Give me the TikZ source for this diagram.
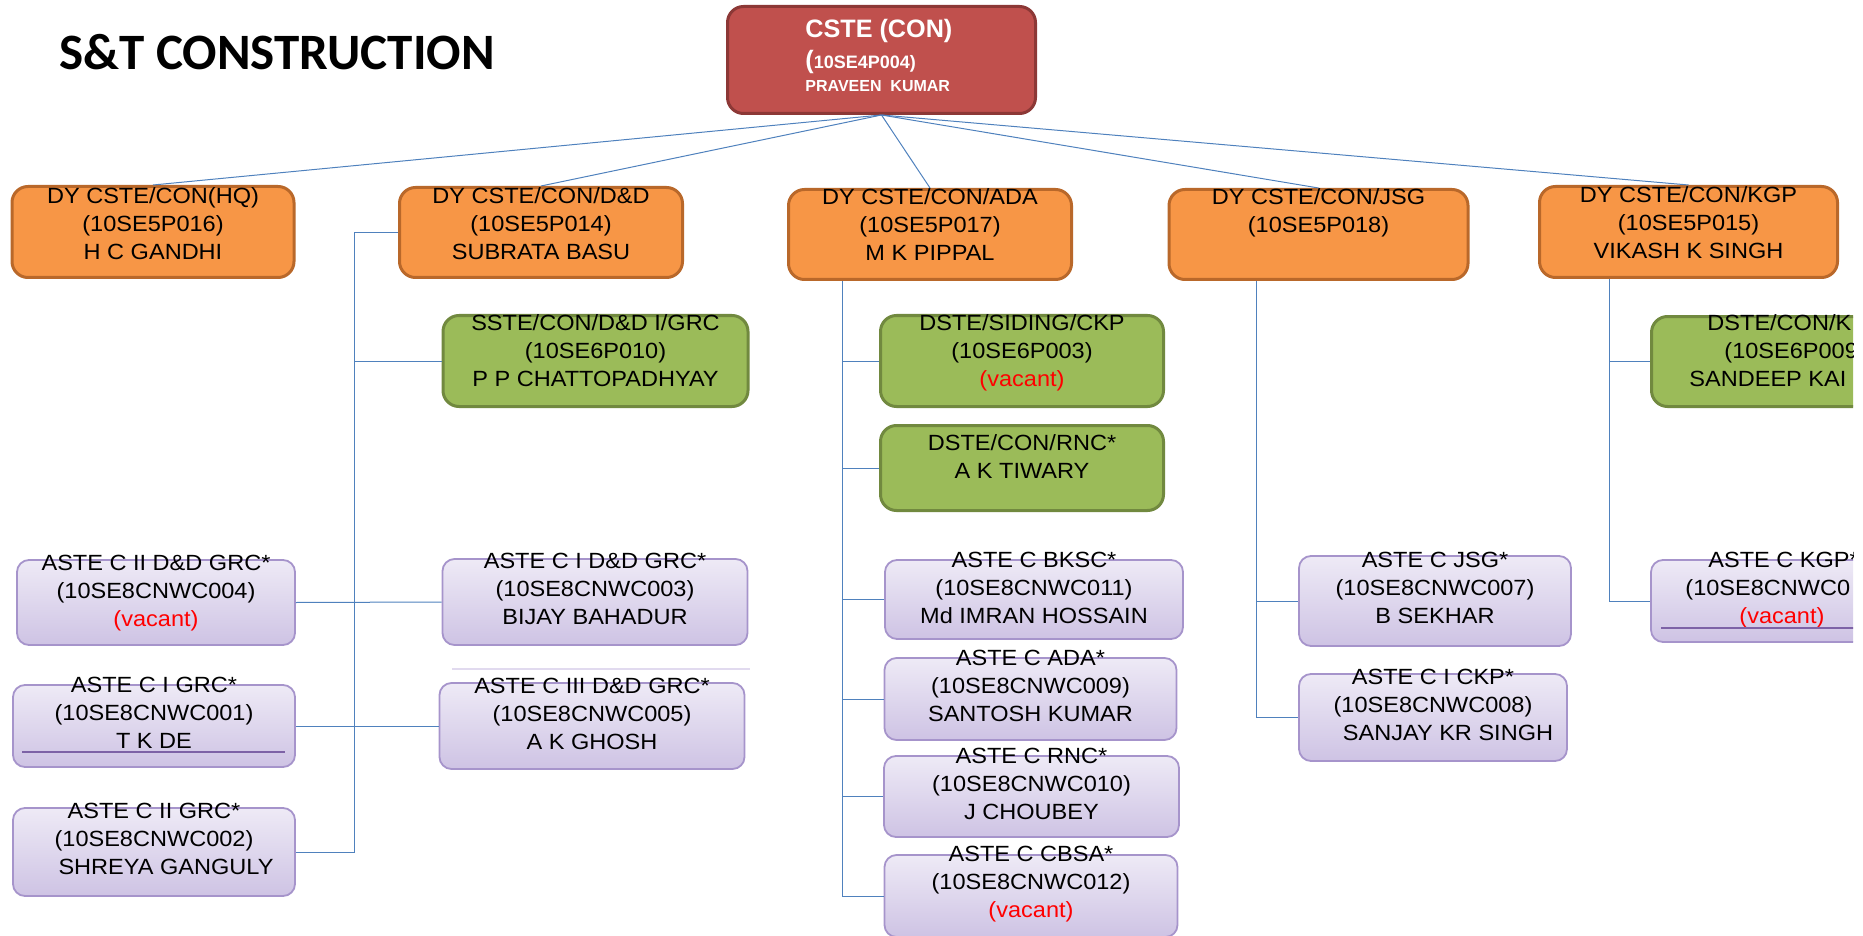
\documentclass[tikz,border=0pt]{standalone}
\usepackage{fontspec}
\setmainfont{Liberation Sans}[FakeStretch=1.07]
\newfontfamily\headfont{Liberation Sans}
\newfontfamily\titlefont{Carlito}
\usetikzlibrary{calc}

\definecolor{cstered}{HTML}{C0504D}
\definecolor{cstedark}{HTML}{8C3836}
\definecolor{dyorange}{HTML}{F79646}
\definecolor{dyorangedark}{HTML}{B9682A}
\definecolor{dstegreen}{HTML}{9BBB59}
\definecolor{dstegreendark}{HTML}{71893F}
\definecolor{astetop}{HTML}{EEEAF6}
\definecolor{astebot}{HTML}{CEC3E4}
\definecolor{asteedge}{HTML}{A694CB}
\definecolor{asteline}{HTML}{7D62A6}
\definecolor{linkblue}{HTML}{4F81BD}
\definecolor{vacantred}{HTML}{FF0000}

\tikzset{
  cstebox/.style={draw=cstedark, fill=cstered, line width=1.5pt, rounded corners=8pt},
  dybox/.style={draw=dyorangedark, fill=dyorange, line width=1.5pt, rounded corners=8pt},
  dstebox/.style={draw=dstegreendark, fill=dstegreen, line width=1.5pt, rounded corners=8pt},
  astebox/.style={draw=asteedge, top color=astetop, bottom color=astebot, line width=0.9pt, rounded corners=6pt},
  boxtext/.style={inner sep=0pt, align=center, anchor=north, font=\fontsize{11}{14}\selectfont},
  link/.style={draw=linkblue, line width=0.5pt},
}

\begin{document}
\begin{tikzpicture}[x=0.5pt,y=-0.5pt]
    \useasboundingbox (0,0) rectangle (1863,936);
    \clip (0,0) rectangle (1853,936);

    \node[anchor=base west, inner sep=0pt, font=\titlefont\bfseries\fontsize{25.5}{30}\selectfont] (title) at (59,70) {S\&T CONSTRUCTION};

    % head
    \node[cstebox, minimum width=154pt, minimum height=53.5pt] (cste) at (881.5,60) {};
    \node[anchor=north west, inner sep=0pt, align=left, text=white, font=\headfont\bfseries\fontsize{9}{15.5}\selectfont] (cstet) at (805,19)
      {{\fontsize{12.6}{15.5}\selectfont CSTE (CON)}\\{\fontsize{12.6}{15.5}\selectfont (}10SE4P004)\\[-4pt]{\fontsize{8}{10}\selectfont PRAVEEN\ \ KUMAR}};

    % deputies
    \node[dybox, minimum width=141pt, minimum height=45.5pt] (hq) at (153,232) {};
    \node[boxtext] (hqt) at (153,187) {DY CSTE/CON(HQ)\\(10SE5P016)\\H C GANDHI};
    \node[dybox, minimum width=141.5pt, minimum height=45pt] (dd) at (541,232.5) {};
    \node[boxtext] (ddt) at (541,187) {DY CSTE/CON/D\&D\\(10SE5P014)\\SUBRATA BASU};
    \node[dybox, minimum width=141.5pt, minimum height=45pt] (ada) at (930,234.5) {};
    \node[boxtext] (adat) at (930,188) {DY CSTE/CON/ADA\\(10SE5P017)\\M K PIPPAL};
    \node[dybox, minimum width=149.5pt, minimum height=45pt] (jsg) at (1318.5,234.5) {};
    \node[boxtext] (jsgt) at (1318.5,188) {DY CSTE/CON/JSG\\(10SE5P018)};
    \node[dybox, minimum width=149pt, minimum height=45.5pt] (kgp) at (1688.5,232) {};
    \node[boxtext] (kgpt) at (1688.5,186) {DY CSTE/CON/KGP\\(10SE5P015)\\VIKASH K SINGH};

    % divisional officers
    \node[dstebox, minimum width=152.5pt, minimum height=45.5pt] (sste) at (595.5,361) {};
    \node[boxtext] (sstet) at (595.5,314) {SSTE/CON/D\&D I/GRC\\(10SE6P010)\\P P CHATTOPADHYAY};
    \node[dstebox, minimum width=141.5pt, minimum height=45.5pt] (siding) at (1022,361) {};
    \node[boxtext] (sidingt) at (1022,314) {DSTE/SIDING/CKP\\(10SE6P003)\\\textcolor{vacantred}{(vacant)}};
    \node[dstebox, minimum width=141.5pt, minimum height=42.5pt] (rnc) at (1022,468) {};
    \node[boxtext] (rnct) at (1022,434) {DSTE/CON/RNC*\\A K TIWARY};
    \node[dstebox, minimum width=150pt, minimum height=45pt] (dstek) at (1801.5,361.5) {};
    \node[boxtext, anchor=north west, align=left] (dstekt) at (1689,314) {\hspace*{9pt}DSTE/CON/K\\\hspace*{17.5pt}(10SE6P009\\SANDEEP KAI};

    % assistant officers
    \node[astebox, minimum width=139pt, minimum height=42.5pt] (c2ddg) at (156,602.5) {};
    \node[boxtext] (c2ddgt) at (156,555) {ASTE C II D\&D GRC*\\(10SE8CNWC004)\\\textcolor{vacantred}{(vacant)}};
    \node[astebox, minimum width=141pt, minimum height=41pt] (c1grc) at (154,726) {};
    \node[boxtext] (c1grct) at (154,677) {ASTE C I GRC*\\(10SE8CNWC001)\\T K DE};
    \node[astebox, minimum width=141pt, minimum height=44pt] (c2grc) at (154,852) {};
    \node[boxtext] (c2grct) at (154,803) {ASTE C II GRC*\\(10SE8CNWC002)\\\hspace*{12pt}SHREYA GANGULY};
    \node[astebox, minimum width=152.5pt, minimum height=43pt] (c1ddg) at (595,602) {};
    \node[boxtext] (c1ddgt) at (595,553) {ASTE C I D\&D GRC*\\(10SE8CNWC003)\\BIJAY BAHADUR};
    \node[astebox, minimum width=152.5pt, minimum height=43pt] (c3ddg) at (592,726) {};
    \node[boxtext] (c3ddgt) at (592,678) {ASTE C III D\&D GRC*\\(10SE8CNWC005)\\A K GHOSH};
    \node[astebox, minimum width=149pt, minimum height=39.5pt] (bksc) at (1034,599.5) {};
    \node[boxtext] (bksct) at (1034,552) {ASTE C BKSC*\\(10SE8CNWC011)\\Md IMRAN HOSSAIN};
    \node[astebox, minimum width=146pt, minimum height=41pt] (cada) at (1030.5,699) {};
    \node[boxtext] (cadat) at (1030.5,650) {ASTE C ADA*\\(10SE8CNWC009)\\SANTOSH KUMAR};
    \node[astebox, minimum width=147.5pt, minimum height=40.5pt] (crnc) at (1031.5,796.5) {};
    \node[boxtext] (crnct) at (1031.5,748) {ASTE C RNC*\\(10SE8CNWC010)\\J CHOUBEY};
    \node[astebox, minimum width=146.5pt, minimum height=41pt] (cbsa) at (1031,896) {};
    \node[boxtext] (cbsat) at (1031,846) {ASTE C CBSA*\\(10SE8CNWC012)\\\textcolor{vacantred}{(vacant)}};
    \node[astebox, minimum width=136pt, minimum height=45pt] (cjsg) at (1435,601) {};
    \node[boxtext] (cjsgt) at (1435,552) {ASTE C JSG*\\(10SE8CNWC007)\\B SEKHAR};
    \node[astebox, minimum width=134pt, minimum height=43.5pt] (cckp) at (1433,717.5) {};
    \node[boxtext] (cckpt) at (1433,669) {ASTE C I CKP*\\(10SE8CNWC008)\\\hspace*{15pt}SANJAY KR SINGH};
    \node[astebox, minimum width=150pt, minimum height=41pt] (ckgp) at (1801,601) {};
    \node[boxtext, anchor=north west, align=left] (ckgpt) at (1685,552) {\hspace*{11.5pt}ASTE C KGP*\\(10SE8CNWC0\\\hspace*{27pt}\textcolor{vacantred}{(vacant)}};

    \draw[asteline, line width=1pt] (22,752) -- (285,752);
    \draw[asteline, line width=1pt] (1661,628) -- (1860,628);
    \draw[astetop!60!astebot, line width=1pt] (452,669) -- (750,669);

    % links
    \foreach \c in {hq,dd,ada,jsg,kgp}
      \draw[link] (cste.south) -- (\c.north);

    \coordinate (ddend) at (354,852);
    \draw[link] (dd.west) -| (ddend) -- (c2grc.east);
    \draw[link] (sste.west) -- (sste.west -| ddend);
    \draw[link] (c2ddg.east) -- (c1ddg.west);
    \draw[link] (c1grc.east) -- (c3ddg.west);

    \coordinate (adaend) at (842.5,896);
    \draw[link] (adaend |- ada.south) -- (adaend) -- (cbsa.west);
    \foreach \c in {siding,rnc,bksc,cada,crnc}
      \draw[link] (\c.west -| adaend) -- (\c.west);

    \coordinate (jsgend) at (1256,717.5);
    \draw[link] (jsgend |- jsg.south) -- (jsgend) -- (cckp.west);
    \draw[link] (cjsg.west -| jsgend) -- (cjsg.west);

    \coordinate (kgpend) at (1609,601);
    \draw[link] (kgpend |- kgp.south) -- (kgpend) -- (ckgp.west);
    \draw[link] (dstek.west -| kgpend) -- (dstek.west);
\end{tikzpicture}
\end{document}
